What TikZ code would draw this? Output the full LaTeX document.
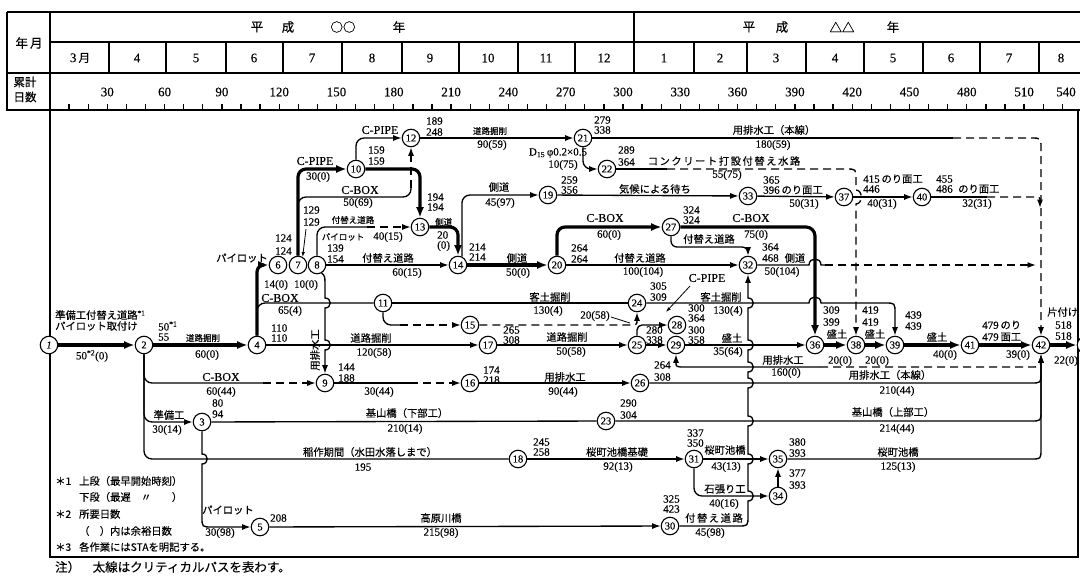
\documentclass[tikz,border=0pt]{standalone}
\usepackage{fontspec}
\setmainfont{Liberation Serif}[FakeBold=0.25]
\newfontfamily\jpf{Noto Sans CJK JP}[FakeBold=0.3]
\newfontfamily\jpwf{Noto Sans CJK JP}[LetterSpace=15,FakeBold=0.3]
\usetikzlibrary{arrows.meta}
\newcounter{labc}
\newcommand\Lb[3][nm]{\stepcounter{labc}\node[#1] (lab\arabic{labc}) at (#2) {#3};}
\newcommand\HumpD[2]{-- (#1,#2-5) .. controls (#1+7,#2-5) and (#1+7,#2+5) .. (#1,#2+5)}
\newcommand\HumpU[2]{-- (#1,#2+5) .. controls (#1+7,#2+5) and (#1+7,#2-5) .. (#1,#2-5)}
\newcommand\HumpR[2]{-- (#1-6,#2) .. controls (#1-6,#2-8) and (#1+6,#2-8) .. (#1+6,#2)}
\tikzset{
 ev/.style={circle,draw,line width=1.1pt,minimum size=17.5pt,inner sep=0pt,fill=white,font=\fontsize{10.5}{10.5}\selectfont},
 act/.style={line width=1.35pt},
 crit/.style={line width=3.2pt},
 dsh/.style={line width=1.35pt,dash pattern=on 8pt off 5pt},
 arw/.style={-{Latex[length=8.5pt,width=6pt]}},
 arwc/.style={-{Latex[length=10.5pt,width=8pt]}},
 arws/.style={-{Latex[length=5pt,width=3.5pt]}},
 nm/.style={inner sep=0pt,font=\fontsize{11}{11}\selectfont},
 nw/.style={nm,anchor=west},
 cb/.style={inner sep=0pt,font=\fontsize{12}{12}\selectfont},
 hn/.style={inner sep=0pt,font=\fontsize{13}{13}\selectfont},
 jt/.style={inner sep=0pt,font=\jpf\fontsize{10.3}{11}\selectfont},
 jn/.style={inner sep=0pt,font=\jpf\fontsize{8.5}{9}\selectfont},
 jw/.style={inner sep=0pt,font=\jpwf\fontsize{10.3}{11}\selectfont},
 hd/.style={inner sep=0pt,font=\jpf\fontsize{12.5}{13}\selectfont},
 hs/.style={inner sep=0pt,font=\jpf\fontsize{11.5}{12}\selectfont},
 fr/.style={line width=1.5pt},
}
\begin{document}
\begin{tikzpicture}[x=1pt,y=-1pt]
\useasboundingbox (0,0) rectangle (1080,576);
% ---------- header ----------
\draw[fr] (7,12) -- (1082,12);
\draw[fr] (7,12) -- (7,110) -- (1082,110);
\draw[fr] (50,12) -- (50,557) -- (1078,557) -- (1078,110);
\draw[act] (50,42) -- (1082,42);
\draw[act] (7,73) -- (1082,73);
\draw[act] (634,12) -- (634,73);
\foreach \x in {109,166,226,283,342,402,459,518,575,694,747,806,864,923,980,1039}
  \draw[act] (\x,42) -- (\x,73);
\foreach \k in {1,...,53}
  \draw[act] ({50+19.1*\k},104) -- ({50+19.1*\k},110);
\foreach \k/\t in {3/30,6/60,9/90,12/120,15/150,18/180,21/210,24/240,27/270,30/300,33/330,36/360,39/390,42/420,45/450,48/480,51/510}
  \node[hn] (d\k) at ({50+19.1*\k},92) {\t};
\Lb[hn]{1066,92}{540}
\Lb[hd]{29,43}{年\,月}
\Lb[hs]{25,82}{累計}
\Lb[hs]{25,97}{日数}
\Lb[hd]{257,27}{平}
\Lb[hd]{288,27}{成}
\Lb[hd]{343,27}{○○}
\Lb[hd]{399,27}{年}
\Lb[hd]{749,27}{平}
\Lb[hd]{782,27}{成}
\Lb[hd]{842,27}{△△}
\Lb[hd]{893,27}{年}
\Lb[hn]{80,58}{3\,{\jpf\fontsize{11.5}{12}\selectfont 月}}
\foreach \x/\t in {137/4,196/5,254/6,312/7,372/8,430/9,488/10,546/11,604/12,664/1,720/2,776/3,835/4,893/5,951/6,1009/7,1061/8}
  \node[hn] (m\x) at (\x,58) {\t};
% ---------- events ----------
\node[ev] (n1) at (49,345) {\textit{1}};
\node[ev] (n2) at (144,345) {2};
\node[ev] (n3) at (202,422) {3};
\node[ev] (n4) at (257,345) {4};
\node[ev] (n5) at (260,527) {5};
\node[ev] (n6) at (278,265) {6};
\node[ev] (n7) at (298,265) {7};
\node[ev] (n8) at (317,265) {8};
\node[ev] (n9) at (325,383) {9};
\node[ev] (n10) at (356,169) {10};
\node[ev] (n11) at (383,303) {11};
\node[ev] (n12) at (411,138) {12};
\node[ev] (n13) at (420,227) {13};
\node[ev] (n14) at (458,265) {14};
\node[ev] (n15) at (470,325) {15};
\node[ev] (n16) at (470,383) {16};
\node[ev] (n17) at (488,345) {17};
\node[ev] (n18) at (518,459) {18};
\node[ev] (n19) at (548,195) {19};
\node[ev] (n20) at (557,265) {20};
\node[ev] (n21) at (583,138) {21};
\node[ev] (n22) at (607,169) {22};
\node[ev] (n23) at (606,421) {23};
\node[ev] (n24) at (637,303) {24};
\node[ev] (n25) at (637,345) {25};
\node[ev] (n26) at (640,383) {26};
\node[ev] (n27) at (671,227) {27};
\node[ev] (n28) at (677,325) {28};
\node[ev] (n29) at (676,345) {29};
\node[ev] (n30) at (670,526) {30};
\node[ev] (n31) at (694,459) {31};
\node[ev] (n32) at (748,265) {32};
\node[ev] (n33) at (748,196) {33};
\node[ev] (n34) at (778,496) {34};
\node[ev] (n35) at (778,459) {35};
\node[ev] (n36) at (815,345) {36};
\node[ev] (n37) at (844,197) {37};
\node[ev] (n38) at (856,345) {38};
\node[ev] (n39) at (895,345) {39};
\node[ev] (n40) at (922,197) {40};
\node[ev] (n41) at (970,345) {41};
\node[ev] (n42) at (1041,345) {42};
\node[ev] (n43) at (1086,345) {43};
\coordinate (j32) at (1036,265);
\coordinate (j40) at (1040,208);
% ---------- activities ----------
\draw[crit,arwc] (n1) -- (n2);
\draw[crit,arwc] (n2) -- (n4);
\draw[crit,arwc,rounded corners=7pt] (n4.north) |- (n6.west);
\draw[act,rounded corners=8pt] (n4.north) |- (n11.west);
\draw[crit,arwc,rounded corners=8pt] (n7.north) |- (n10.west);
\draw[act,rounded corners=8pt] (n7.north) |- (411,197) -- (411,188);
\draw[dsh,arw] (411,188) -- (n12.south);
\draw[act,arw,rounded corners=8pt] (n10.north) |- (n12.west);
\draw[crit,arwc,rounded corners=8pt] (n10.east) -| (n13.north);
\draw[act,rounded corners=8pt] (n8.north) |- (367,227);
\draw[dsh,arw] (367,227) -- (n13.west);
\draw[line width=0.8pt,arws] (306,229) -- (n7.60);
\draw[act,arw] (n8) -- (n14);
\draw[crit,arwc,rounded corners=8pt] (n13.east) -| (n14.north);
\draw[act,arw,rounded corners=8pt] (n14.65) |- (n19.west);
\draw[crit,arwc] (n14) -- (n20);
\draw[crit,arwc,rounded corners=8pt] (n20.north) |- (n27.west);
\draw[act,arw] (n20) -- (n32);
\draw[crit,arwc,rounded corners=9pt] (n27.east) -| (n36.north);
\draw[act,arw,rounded corners=6pt] (n27.south) |- (748,247) -- (n32.north);
\draw[act] (n32.east) \HumpR{815}{265} -- (825,265);
\draw[dsh,arw] (825,265) -- (j32);
\draw[act,arw] (n24.east) \HumpR{815}{303} -- (885,303) .. controls (895,303) .. (895,313) -- (n39.north);
\draw[act] (n11) -- (n24);
\draw[act,rounded corners=8pt] (n11.south) |- (400,325);
\draw[dsh,arw] (400,325) -- (n15.west);
\draw[dsh,arw] (n15.east) -- (627,325) .. controls (637,325) .. (n24.south);
\draw[act,arw,rounded corners=5pt] (n25.north) |- (n28.west);
\draw[line width=0.8pt] (611,317) -- (630,323);
\draw[line width=0.8pt,arws] (690,286) -- (666,312);
\draw[act,arw] (n4) -- (n17);
\draw[act,arw] (n17) -- (n25);
\draw[act,arw] (n25) -- (n29);
\draw[act,arw] (n29) -- (n36);
\draw[crit,arwc] (n36) -- (n38);
\draw[crit,arwc] (n38) -- (n39);
\draw[crit,arwc] (n39) -- (n41);
\draw[crit,arwc] (n41) -- (n42);
\draw[crit,arwc] (n42) -- (n43);
\draw[act] (n22.east) -- (667,169);
\draw[dsh,arw] (667,169) -- (846,169) .. controls (856,169) .. (856,179) -- (856,190) .. controls (863,190) and (863,204) .. (856,204) -- (n38.north);
\draw[act,arw,rounded corners=8pt] (n21.south) |- (n22.west);
\draw[act,arw] (n12) -- (n21);
\draw[act] (n21.east) -- (953,138);
\draw[dsh,arw] (953,138) -- (1031,138) .. controls (1041,138) .. (1041,148) -- (n42.north);
\draw[act,arw] (n19) -- (n33);
\draw[act,arw] (n33) -- (n37);
\draw[act,arw] (n37) -- (n40);
\draw[act] (n40.east) -- (987,197);
\draw[dsh,arw] (987,197) -- (1031,197) .. controls (1040,197) .. (j40);
\draw[act,rounded corners=8pt] (n2.south) |- (263,383);
\draw[dsh,arw] (263,383) -- (n9.west);
\draw[act,arw] (n8.-60) .. controls (325,276) .. (325,288) \HumpD{325}{303} \HumpD{325}{345} -- (n9.north);
\draw[act] (n9.east) -- (410,383);
\draw[dsh,arw] (410,383) -- (n16.west);
\draw[act,arw] (n16) -- (n26);
\draw[act,arw] (n26.east) -- (1031,383) .. controls (1041,383) .. (1041,373) -- (n42.south);
\draw[act,arw] (820,367) -- (686,367) .. controls (676,367) .. (n29.south);
\draw[dsh] (820,367) -- (1031,367) .. controls (1041,367) .. (n42.south);
\draw[act,arw,rounded corners=8pt] (n2.south) |- (n3.west);
\draw[act] (n3) -- (n23);
\draw[act,arw] (n23.east) -- (1031,421) .. controls (1041,421) .. (1041,411) -- (n42.south);
\draw[act,rounded corners=8pt] (n2.south) |- (n18.west);
\draw[act,arw] (n3.south) \HumpD{202}{459} -- (202,517) .. controls (202,527) .. (212,527) -- (n5.west);
\draw[act,arw] (n5) -- (n30);
\draw[act,arw] (n30.east) -- (738,526) .. controls (748,526) .. (748,516) \HumpU{748}{496} \HumpU{748}{459} \HumpU{748}{421} \HumpU{748}{383} \HumpU{748}{367} \HumpU{748}{345} \HumpU{748}{303} -- (n32.south);
\draw[act,arw] (n18) -- (n31);
\draw[act,arw] (n31) -- (n35);
\draw[act,arw,rounded corners=8pt] (n31.south) |- (n34.west);
\draw[act,arw] (n34) -- (n35);
\draw[act,arw] (n35.east) -- (1031,459) .. controls (1041,459) .. (1041,449) -- (n42.south);
% ---------- event times ----------
\Lb[nw]{158,326}{50\textsuperscript{*1}}
\Lb[nw]{158,337}{55}
\Lb[nw]{271,328}{110}
\Lb[nw]{271,338}{110}
\Lb[nw]{275,238}{124}
\Lb[nw]{275,251}{124}
\Lb[nw]{303,210}{129}
\Lb[nw]{303,222}{129}
\Lb[nw]{327,248}{139}
\Lb[nw]{327,259}{154}
\Lb[nw]{368,150}{159}
\Lb[nw]{368,161}{159}
\Lb[nw]{426,121}{189}
\Lb[nw]{426,132}{248}
\Lb[nw]{427,197}{194}
\Lb[nw]{427,207}{194}
\Lb[nw]{437,235}{20}
\Lb[nw]{437,246}{(0)}
\Lb[nw]{469,247}{214}
\Lb[nw]{469,257}{214}
\Lb[nw]{571,248}{264}
\Lb[nw]{571,259}{264}
\Lb[nw]{561,180}{259}
\Lb[nw]{561,190}{356}
\Lb[nw]{594,120}{279}
\Lb[nw]{594,130}{338}
\Lb[nw]{618,150}{289}
\Lb[nw]{618,162}{364}
\Lb[nw]{683,210}{324}
\Lb[nw]{683,220}{324}
\Lb[nw]{763,180}{365}
\Lb[nw]{763,190}{396\,{\jpf\fontsize{10.3}{11}\selectfont のり面工}}
\Lb[nw]{762,247}{364}
\Lb[nw]{762,258}{468}
\Lb[nw]{863,179}{415\,{\jpf\fontsize{10.3}{11}\selectfont のり面工}}
\Lb[nw]{863,189}{446}
\Lb[nw]{936,179}{455}
\Lb[nw]{936,189}{486}
\Lb[nw]{650,286}{305}
\Lb[nw]{650,297}{309}
\Lb[nw]{688,308}{300}
\Lb[nw]{688,318}{364}
\Lb[nw]{646,330}{280}
\Lb[nw]{646,340}{338}
\Lb[nw]{688,330}{300}
\Lb[nw]{688,340}{358}
\Lb[nw]{503,330}{265}
\Lb[nw]{503,340}{308}
\Lb[nw]{654,365}{264}
\Lb[nw]{654,377}{308}
\Lb[nw]{338,367}{144}
\Lb[nw]{338,378}{188}
\Lb[nw]{483,370}{174}
\Lb[nw]{483,380}{218}
\Lb[nw]{212,403}{80}
\Lb[nw]{212,414}{94}
\Lb[nw]{620,403}{290}
\Lb[nw]{620,415}{304}
\Lb[nw]{823,310}{309}
\Lb[nw]{823,322}{399}
\Lb[nw]{862,310}{419}
\Lb[nw]{862,322}{419}
\Lb[nw]{905,315}{439}
\Lb[nw]{905,326}{439}
\Lb[nw]{982,325}{479\,{\jpf\fontsize{10.3}{11}\selectfont のり}}
\Lb[nw]{982,337}{479\,{\jpf\fontsize{10.3}{11}\selectfont 面工}}
\Lb[nw]{1055,325}{518}
\Lb[nw]{1055,336}{518}
\Lb[nw]{533,442}{245}
\Lb[nw]{533,452}{258}
\Lb[nw]{687,433}{337}
\Lb[nw]{687,443}{350}
\Lb[nw]{789,442}{380}
\Lb[nw]{789,453}{393}
\Lb[nw]{789,473}{377}
\Lb[nw]{789,485}{393}
\Lb[nw]{663,499}{325}
\Lb[nw]{663,509}{423}
\Lb[nw]{270,518}{208}
% ---------- activity labels ----------
\Lb[jt,anchor=west]{55,315}{準備工付替え道路\textsuperscript{\rmfamily *1}}
\Lb[jt,anchor=west]{55,326}{パイロット取付け}
\Lb{92,356}{50\textsuperscript{*2}(0)}
\Lb[jn]{203,338}{道路掘削}
\Lb{207,355}{60(0)}
\Lb[jt]{242,258}{パイロット}
\Lb{276,285}{14(0)}
\Lb{306,285}{10(0)}
\Lb[cb]{280,298}{C-BOX}
\Lb{290,311}{65(4)}
\Lb[cb]{315,161}{C-PIPE}
\Lb{318,177}{30(0)}
\Lb[cb]{380,130}{C-PIPE}
\Lb[cb]{360,190}{C-BOX}
\Lb{358,203}{50(69)}
\Lb[jn]{353,220}{付替え道路}
\Lb[jn]{343,237}{パイロット}
\Lb{388,237}{40(15)}
\Lb[jt]{388,258}{付替え道路}
\Lb{407,273}{60(15)}
\Lb[jn,anchor=west]{435,222}{側道}
\Lb[jt]{499,187}{側道}
\Lb{500,203}{45(97)}
\Lb[jt]{517,258}{側道}
\Lb{518,273}{50(0)}
\Lb[cb]{605,218}{C-BOX}
\Lb{609,235}{60(0)}
\Lb[cb]{751,218}{C-BOX}
\Lb{756,235}{75(0)}
\Lb[jt]{709,239}{付替え道路}
\Lb[jt]{640,258}{付替え道路}
\Lb{643,272}{100(104)}
\Lb[jt]{795,258}{側道}
\Lb{782,272}{50(104)}
\Lb[jn]{490,131}{道路掘削}
\Lb{492,145}{90(59)}
\Lb{558,153}{D\textsubscript{15}\,φ0.2×0.5}
\Lb{563,165}{10(75)}
\Lb[jt]{774,130}{用排水工（本線）}
\Lb{773,145}{180(59)}
\Lb[jw]{724,161}{コンクリート打設付替え水路}
\Lb{727,175}{55(75)}
\Lb[jt]{655,189}{気候による待ち}
\Lb{804,204}{50(31)}
\Lb{882,204}{40(31)}
\Lb[jt,anchor=west]{958,189}{のり面工}
\Lb{977,204}{32(31)}
\Lb[jt]{550,297}{客土掘削}
\Lb{548,311}{130(4)}
\Lb[jt]{721,297}{客土掘削}
\Lb{728,311}{130(4)}
\Lb[cb]{707,278}{C-PIPE}
\Lb{595,316}{20(58)}
\Lb[jt]{371,338}{道路掘削}
\Lb{374,353}{120(58)}
\Lb[jt]{567,337}{道路掘削}
\Lb{571,352}{50(58)}
\Lb[jt]{732,338}{盛土}
\Lb{728,352}{35(64)}
\Lb[jt]{783,360}{用排水工}
\Lb{786,373}{160(0)}
\Lb[jt]{837,334}{盛土}
\Lb{840,361}{20(0)}
\Lb[jt]{875,334}{盛土}
\Lb{877,361}{20(0)}
\Lb[jt]{937,337}{盛土}
\Lb{945,355}{40(0)}
\Lb{1018,355}{39(0)}
\Lb[jt,anchor=west]{1047,312}{片付け}
\Lb{1066,361}{22(0)}
\Lb[jt]{890,375}{用排水工（本線）}
\Lb{897,391}{210(44)}
\Lb[cb]{221,377}{C-BOX}
\Lb{221,392}{60(44)}
\Lb{379,392}{30(44)}
\Lb[jt]{565,377}{用排水工}
\Lb{563,392}{90(44)}
\Lb[jt,rotate=90]{315,350}{用排水工}
\Lb[jt]{169,415}{準備工}
\Lb{167,430}{30(14)}
\Lb[jt]{407,413}{基山橋（下部工）}
\Lb{405,429}{210(14)}
\Lb[jt]{893,412}{基山橋（上部工）}
\Lb{897,429}{214(44)}
\Lb[jt]{370,452}{稲作期間（水田水落しまで）}
\Lb{363,467}{195}
\Lb[jt]{617,452}{桜町池橋基礎}
\Lb{618,467}{92(13)}
\Lb[jt]{725,450}{桜町池橋}
\Lb{726,467}{43(13)}
\Lb[jt]{725,489}{石張り工}
\Lb{724,504}{40(16)}
\Lb[jt]{898,452}{桜町池橋}
\Lb{898,467}{125(13)}
\Lb[jt]{228,510}{パイロット}
\Lb{220,533}{30(98)}
\Lb[jt]{441,518}{高原川橋}
\Lb{441,533}{215(98)}
\Lb[jw]{714,518}{付替え道路}
\Lb{710,533}{45(98)}
% ---------- legend ----------
\Lb[jt,anchor=west]{55,481}{＊1}
\Lb[jt,anchor=west]{79,481}{上段（最早開始時刻）}
\Lb[jt,anchor=west]{79,497}{下段（最遅　〃　　）}
\Lb[jt,anchor=west]{55,514}{＊2}
\Lb[jt,anchor=west]{79,514}{所要日数}
\Lb[jt,anchor=west]{79,531}{（　）内は余裕日数}
\Lb[jt,anchor=west]{55,547}{＊3}
\Lb[jt,anchor=west]{79,547}{各作業にはSTAを明記する。}
\Lb[hd,anchor=west]{55,567}{注）　太線はクリティカルパスを表わす。}
\end{tikzpicture}
\end{document}
